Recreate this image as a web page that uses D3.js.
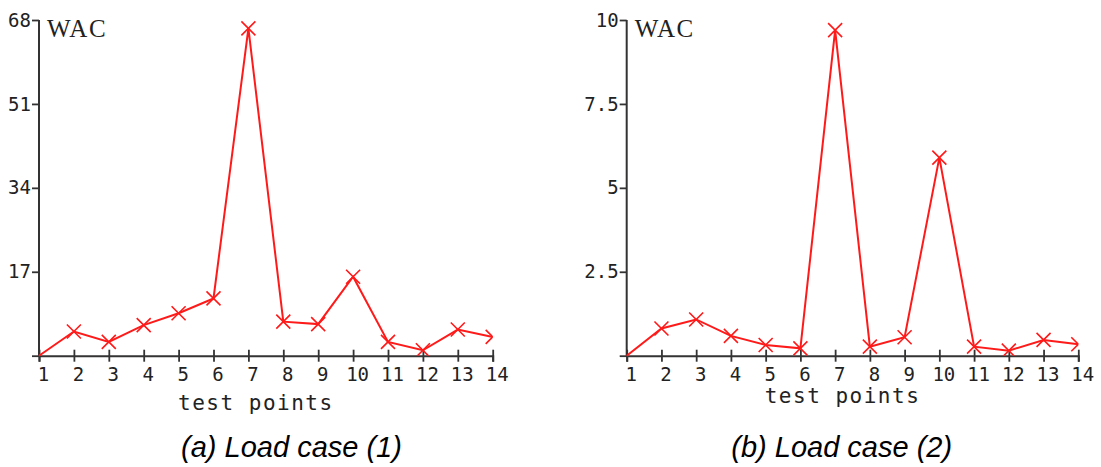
<!DOCTYPE html>
<html>
<head>
<meta charset="utf-8">
<style>
  body { margin: 0; background: #fff; }
  .tick text { font-family: "DejaVu Sans Mono", monospace; fill: #222; }
  .axis path, .axis line { stroke: #333; }
</style>
</head>
<body>
<div id="chart"></div>

<script src="https://d3js.org/d3.v7.min.js"></script>
<script>

	var w = 1101, h = 467;

	// data
	var testPoints = [1, 2, 3, 4, 5, 6, 7, 8, 9, 10, 11, 12, 13, 14];
	var wacCase1 = [0, 4.9, 2.8, 6.2, 8.6, 11.6, 66.3, 6.9, 6.4, 16.0, 2.8, 1.1, 5.3, 3.8];
	var wacCase2 = [0, 0.81, 1.08, 0.59, 0.32, 0.22, 9.7, 0.27, 0.55, 5.9, 0.27, 0.15, 0.47, 0.34];
	var ticks1 = [0, 17, 34, 51, 68];
	var ticks2 = [0, 2.5, 5, 7.5, 10];
	var captions = ["(a) Load case (1)", "(b) Load case (2)"];

	var svg = d3.select("#chart")
				.append("svg")
				.attr("width", w)
				.attr("height", h);

	function drawPanel(opt) {
		var x = d3.scaleLinear().domain([1, 14]).range([opt.left, opt.right]),
			y = d3.scaleLinear().domain([0, opt.yMax]).range([355.7, 20]);

		var g = svg.append("g");

		// y axis
		var yAxis = d3.axisLeft(y)
			.tickValues(opt.yTicks)
			.tickSize(7)
			.tickPadding(1)
			.tickFormat(function(d) { return d === 0 ? "" : d; });
		var ya = g.append("g")
			.attr("class", "axis")
			.attr("transform", "translate(" + opt.left + ",0)")
			.call(yAxis);
		ya.select(".domain").remove();
		ya.append("line")
			.attr("x1", 0).attr("x2", 0)
			.attr("y1", y(opt.yMax)).attr("y2", y(0))
			.attr("stroke", "#333").attr("stroke-width", 2);
		ya.selectAll(".tick line").attr("stroke-width", 1.8);
		ya.selectAll(".tick text").style("font-size", "19px");

		// x axis
		var xAxis = d3.axisBottom(x)
			.tickValues(testPoints)
			.tickSize(6)
			.tickPadding(6)
			.tickFormat(d3.format("d"));
		var xa = g.append("g")
			.attr("class", "axis")
			.attr("transform", "translate(0," + y(0) + ")")
			.call(xAxis);
		xa.select(".domain").attr("stroke-width", 2);
		xa.selectAll(".tick line").attr("y1", -6).attr("stroke-width", 1.8);
		xa.selectAll(".tick text")
			.style("font-size", "19px")
			.attr("dx", 4);

		// clip for the plot area
		var clipId = "clip" + opt.id;
		g.append("clipPath").attr("id", clipId)
			.append("rect")
			.attr("x", opt.left).attr("y", 0)
			.attr("width", opt.right - opt.left).attr("height", y(0));

		var line = d3.line()
			.x(function(d, i) { return x(testPoints[i]); })
			.y(function(d) { return y(d); });

		g.append("path")
			.datum(opt.values)
			.attr("fill", "none")
			.attr("stroke", "#ff1a1a")
			.attr("stroke-width", 2)
			.attr("d", line);

		// x markers
		var s = 7;
		g.append("g")
			.attr("clip-path", "url(#" + clipId + ")")
			.selectAll("path")
			.data(opt.values.slice(1))
			.enter()
			.append("path")
			.attr("fill", "none")
			.attr("stroke", "#ff1a1a")
			.attr("stroke-width", 1.6)
			.attr("d", function(d, i) {
				var cx = x(testPoints[i + 1]), cy = y(d);
				return "M" + (cx - s) + "," + (cy - s) + "L" + (cx + s) + "," + (cy + s) +
					"M" + (cx - s) + "," + (cy + s) + "L" + (cx + s) + "," + (cy - s);
			});

		// labels
		g.append("text")
			.attr("x", opt.left + 8)
			.attr("y", 37)
			.style("font-family", "'Liberation Serif', serif")
			.style("font-size", "25px")
			.style("letter-spacing", "1.5px")
			.attr("fill", "#222")
			.text("WAC");

		g.append("text")
			.attr("x", (opt.left + opt.right) / 2 - 10)
			.attr("y", opt.xlabY)
			.attr("text-anchor", "middle")
			.style("font-family", "'DejaVu Sans Mono', monospace")
			.style("font-size", "21px")
			.style("letter-spacing", "1.5px")
			.attr("fill", "#222")
			.text("test points");

		g.append("text")
			.attr("x", opt.capX)
			.attr("y", 457)
			.attr("text-anchor", "middle")
			.style("font-family", "'Liberation Sans', Arial, sans-serif")
			.style("font-style", "italic")
			.style("font-size", "29px")
			.attr("fill", "#000")
			.text(opt.caption);
	}

	drawPanel({ id: 1, left: 39, right: 492.7, yMax: 68, yTicks: ticks1,
		values: wacCase1, xlabY: 410, capX: 291.5, caption: captions[0] });
	drawPanel({ id: 2, left: 626.7, right: 1078.3, yMax: 10, yTicks: ticks2,
		values: wacCase2, xlabY: 403, capX: 841.7, caption: captions[1] });

</script>
</body>
</html>
